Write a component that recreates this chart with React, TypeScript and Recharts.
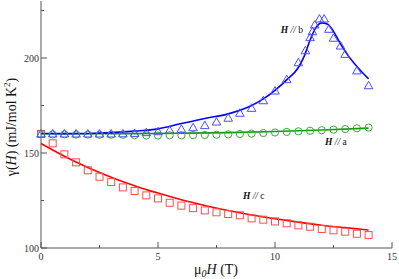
import React from "react";
import { ComposedChart, Line, Scatter, XAxis, YAxis, ReferenceDot } from "recharts";

// measured points, H // a (circles) and H // c (squares) share the field grid
const fieldsAC = [0, 0.5, 1, 1.5, 2, 2.5, 3, 3.5, 4, 4.5, 5, 5.5, 6, 6.5, 7, 7.5, 8, 8.5, 9, 9.5, 10, 10.5, 11, 11.5, 12, 12.5, 13, 13.5, 14];
const gammaA = [160, 159.8, 159.8, 159.7, 159.7, 159.6, 159.6, 159.6, 159.4, 159.2, 159.2, 159.3, 159.3, 159.4, 159.5, 159.6, 159.8, 160, 160.2, 160.5, 160.8, 161.1, 161.4, 161.7, 162, 162.3, 162.6, 163, 163.4];
const gammaC = [160, 155.1, 149.3, 145.1, 140.9, 137.5, 134.7, 131.9, 130, 127.7, 126.1, 123.8, 122.3, 121, 119.8, 118.8, 117.9, 117.2, 115.6, 114.9, 114, 113, 111.9, 111.2, 110, 109.3, 108.6, 107.5, 106.8];

// H // b (triangles)
const fieldsB = [0, 0.5, 1, 1.5, 2, 2.5, 3, 3.5, 4, 4.5, 5, 5.5, 6, 6.5, 7, 7.5, 8, 8.5, 9, 9.5, 10, 10.5, 11, 11.3, 11.5, 11.6, 11.7, 11.9, 12.1, 12.3, 12.5, 12.8, 13, 13.5, 14];
const gammaB = [160, 160, 160, 160, 160, 160, 160, 160.1, 160.3, 160.7, 161.2, 161.9, 162.5, 163.3, 164.4, 166.3, 168.3, 170.9, 173.5, 177.5, 182.6, 188.6, 197.5, 203.8, 210.7, 213.8, 217.4, 220.5, 220.5, 215.1, 210.4, 206.3, 201.9, 193.2, 185.4];

// fitted curves
const fitFieldsA = [0, 2, 4, 6, 8, 10, 12, 14];
const fitGammaA = [160.1, 160.1, 160.2, 160.4, 160.7, 161.3, 162.1, 163.1];
const fitFieldsB = [0, 1, 2, 3, 4, 5, 6, 7, 8, 9, 9.5, 10, 10.5, 11, 11.25, 11.5, 11.75, 12, 12.25, 12.5, 12.75, 13, 13.5, 14];
const fitGammaB = [160.3, 160.2, 160.3, 160.7, 161.5, 162.7, 165.5, 168.2, 170.6, 175, 178.5, 183, 188.5, 195, 201, 209.5, 216, 218.5, 217.8, 214, 208.5, 203.5, 195.5, 189];
const fitFieldsC = [0, 1, 2, 3, 4, 5, 6, 7, 8, 9, 10, 11, 12, 13, 14];
const fitGammaC = [155, 148.3, 142.4, 137.3, 132.8, 128.9, 125.4, 122.4, 119.7, 117.4, 115.4, 113.6, 112, 110.7, 109.5];

const xTicks = [0, 2.5, 5, 7.5, 10, 12.5, 15];
const yTicks = [100, 125, 150, 175, 200, 225];

const zip = (xs: number[], ys: number[]) => xs.map((x, i) => ({ x, y: ys[i] }));

const axisColor = "#555";
const font = "'Liberation Serif', 'DejaVu Serif', serif";

const BottomTick = ({ x, y, payload }: any) => {
  const major = payload.value % 5 === 0;
  return (
    <g>
      <line x1={x} x2={x} y1={y} y2={y - (major ? 6 : 3)} stroke={axisColor} />
      {major && (
        <text x={x} y={y + 12} textAnchor="middle" fontSize={10} fontFamily={font} fill="#333">
          {payload.value}
        </text>
      )}
    </g>
  );
};

const TopTick = ({ x, y, payload }: any) => {
  const major = payload.value % 5 === 0;
  return <line x1={x} x2={x} y1={y} y2={y + (major ? 6 : 3)} stroke={axisColor} />;
};

const LeftTick = ({ x, y, payload }: any) => {
  const major = payload.value % 50 === 0;
  return (
    <g>
      <line x1={x} x2={x + (major ? 6 : 3)} y1={y} y2={y} stroke={axisColor} />
      {major && (
        <text x={x - 2} y={y + 3.5} textAnchor="end" fontSize={10} fontFamily={font} fill="#333">
          {payload.value}
        </text>
      )}
    </g>
  );
};

const RightTick = ({ x, y, payload }: any) => {
  const major = payload.value % 50 === 0;
  return <line x1={x} x2={x - (major ? 6 : 3)} y1={y} y2={y} stroke={axisColor} />;
};

const Square = ({ cx, cy }: any) => (
  <rect x={cx - 3.5} y={cy - 3.5} width={7} height={7} fill="none" stroke="#ff4d4d" />
);
const Circle = ({ cx, cy }: any) => <circle cx={cx} cy={cy} r={3.6} fill="none" stroke="#3aaa3a" />;
const Triangle = ({ cx, cy }: any) => (
  <polygon points={`${cx},${cy - 4.5} ${cx - 4.3},${cy + 3} ${cx + 4.3},${cy + 3}`} fill="none" stroke="#4d4dff" />
);

const annot = (text: string) => ({ cx, cy }: any) => (
  <text x={cx} y={cy} dominantBaseline="middle" fontSize={9.5} fontFamily={font} fill="#111">
    <tspan fontWeight="bold" fontStyle="italic">H</tspan>
    <tspan fontStyle="italic"> // </tspan>
    <tspan>{text}</tspan>
  </text>
);

const YTitle = () => (
  <text transform="translate(13,127) rotate(-90)" textAnchor="middle" dominantBaseline="middle" fontSize={14} fontFamily={font} fill="#111">
    γ(<tspan fontStyle="italic">H</tspan>) (mJ/mol K<tspan fontSize={9} dy={-5}>2</tspan>
    <tspan dy={5}>)</tspan>
  </text>
);

const XTitle = () => (
  <text x={216} y={274} textAnchor="middle" fontSize={14} fontFamily={font} fill="#111">
    μ<tspan fontSize={10} dy={3} fontStyle="italic">0</tspan>
    <tspan dy={-3} fontStyle="italic">H</tspan> (T)
  </text>
);

export default function App() {
  return (
    <div style={{ position: "absolute", left: 0, top: 0, width: 399, height: 279 }}>
      <ComposedChart width={399} height={279} margin={{ top: 1, right: 7, bottom: 0, left: 0 }}>
        <XAxis
          type="number"
          dataKey="x"
          domain={[0, 15]}
          ticks={xTicks}
          interval={0}
          height={31}
          tickSize={0}
          tickMargin={0}
          tickLine={false}
          axisLine={{ stroke: axisColor }}
          tick={<BottomTick />}
          label={{ content: () => <XTitle /> }}
        />
        <XAxis
          xAxisId="top"
          orientation="top"
          type="number"
          dataKey="x"
          domain={[0, 15]}
          ticks={xTicks}
          interval={0}
          height={0}
          tickSize={0}
          tickMargin={0}
          tickLine={false}
          axisLine={{ stroke: axisColor }}
          tick={<TopTick />}
        />
        <YAxis
          type="number"
          domain={[100, 230]}
          ticks={yTicks}
          interval={0}
          width={41}
          tickSize={0}
          tickMargin={0}
          tickLine={false}
          axisLine={{ stroke: axisColor }}
          tick={<LeftTick />}
          label={{ content: () => <YTitle /> }}
        />
        <YAxis
          yAxisId="right"
          orientation="right"
          type="number"
          domain={[100, 230]}
          ticks={yTicks}
          interval={0}
          width={0}
          tickSize={0}
          tickMargin={0}
          tickLine={false}
          axisLine={{ stroke: axisColor }}
          tick={<RightTick />}
        />
        <Line data={zip(fitFieldsC, fitGammaC)} dataKey="y" type="monotone" stroke="#ff0000" strokeWidth={1.6} dot={false} isAnimationActive={false} />
        <Line data={zip(fitFieldsA, fitGammaA)} dataKey="y" type="monotone" stroke="#119911" strokeWidth={1.6} dot={false} isAnimationActive={false} />
        <Line data={zip(fitFieldsB, fitGammaB)} dataKey="y" type="monotone" stroke="#0000ff" strokeWidth={1.6} dot={false} isAnimationActive={false} />
        <Scatter data={zip(fieldsAC, gammaC)} dataKey="y" shape={<Square />} isAnimationActive={false} />
        <Scatter data={zip(fieldsAC, gammaA)} dataKey="y" shape={<Circle />} isAnimationActive={false} />
        <Scatter data={zip(fieldsB, gammaB)} dataKey="y" shape={<Triangle />} isAnimationActive={false} />
        <ReferenceDot x={10.25} y={214} r={0} shape={annot("b")} />
        <ReferenceDot x={12.14} y={155.3} r={0} shape={annot("a")} />
        <ReferenceDot x={8.63} y={126.8} r={0} shape={annot("c")} />
      </ComposedChart>
    </div>
  );
}
